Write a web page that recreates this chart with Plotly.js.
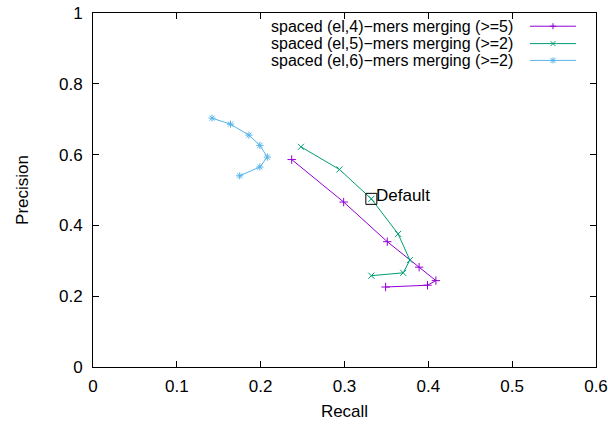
<!DOCTYPE html>
<html>
<head>
<meta charset="utf-8">
<script src="https://cdn.plot.ly/plotly-3.0.1.min.js"></script>
<style>html,body{margin:0;padding:0;background:#fff}#chart{width:608px;height:424px}</style>
</head>
<body>
<div id="chart"></div>
<script>
var seriesNames = [
  "spaced (el,4)\u2212mers merging (>=5)",
  "spaced (el,5)\u2212mers merging (>=2)",
  "spaced (el,6)\u2212mers merging (>=2)"
];
var recall4 = [0.237, 0.299, 0.351, 0.389, 0.409, 0.399, 0.349];
var precision4 = [0.586, 0.466, 0.354, 0.282, 0.244, 0.231, 0.226];
var recall5 = [0.248, 0.294, 0.332, 0.364, 0.378, 0.370, 0.332];
var precision5 = [0.622, 0.558, 0.475, 0.376, 0.302, 0.266, 0.258];
var recall6 = [0.142, 0.164, 0.186, 0.199, 0.208, 0.199, 0.175];
var precision6 = [0.703, 0.686, 0.655, 0.626, 0.593, 0.565, 0.540];
var defaultRecall = [0.332];
var defaultPrecision = [0.475];
var defaultLabel = ["Default"];
var xTicks = [0, 0.1, 0.2, 0.3, 0.4, 0.5, 0.6];
var yTicks = [0, 0.2, 0.4, 0.6, 0.8, 1];

var colors = ["#9400d3", "#009e73", "#56b4e9"];
var symbols = ["cross-thin-open", "x-thin-open", "asterisk-open"];
var FONT = "Liberation Sans, Arial, sans-serif";
var FS = 17;
var LFS = 16;

var xs = [recall4, recall5, recall6];
var ys = [precision4, precision5, precision6];
var traces = [];
for (var i = 0; i < 3; i++) {
  traces.push({
    x: xs[i], y: ys[i], type: "scatter", mode: "lines+markers",
    name: seriesNames[i], showlegend: false,
    line: {color: colors[i], width: 1},
    marker: {symbol: symbols[i], size: 6, color: colors[i], line: {color: colors[i], width: 1}}
  });
}
traces.push({
  x: defaultRecall, y: defaultPrecision, type: "scatter", mode: "markers",
  name: defaultLabel[0], showlegend: false,
  marker: {symbol: "square-open", size: 11, color: "#000", line: {color: "#000", width: 1}}
});

var annotations = [{
  xref: "x", yref: "y", x: defaultRecall[0], y: defaultPrecision[0],
  xanchor: "left", yanchor: "middle", xshift: 4, yshift: 3, showarrow: false, borderpad: 0,
  text: defaultLabel[0], font: {family: FONT, size: FS, color: "#000"}
}];

// hand-built legend (text right-aligned, sample line on the right)
var rowY = [0.9627, 0.9136, 0.8661];
var shapes = [];
var lx0 = 0.8688, lx1 = 0.9602, mx = 0.9145;
for (var k = 0; k < 3; k++) {
  annotations.push({
    xref: "paper", yref: "paper", x: 0.837, y: rowY[k],
    xanchor: "right", yanchor: "middle", showarrow: false, borderpad: 0,
    text: seriesNames[k], font: {family: FONT, size: LFS, color: "#000"}
  });
  shapes.push({type: "line", xref: "paper", yref: "paper", x0: lx0, x1: lx1, y0: rowY[k], y1: rowY[k],
    line: {color: colors[k], width: 1}});
  var segs = [];
  if (k === 0) segs = [[-3, 0, 3, 0], [0, -3, 0, 3]];
  if (k === 1) segs = [[-2.5, -2.5, 2.5, 2.5], [-2.5, 2.5, 2.5, -2.5]];
  if (k === 2) segs = [[-3, 0, 3, 0], [0, -3, 0, 3], [-2.5, -2.5, 2.5, 2.5], [-2.5, 2.5, 2.5, -2.5]];
  segs.forEach(function (s) {
    shapes.push({type: "line", xref: "paper", yref: "paper",
      xsizemode: "pixel", ysizemode: "pixel", xanchor: mx, yanchor: rowY[k],
      x0: s[0], y0: s[1], x1: s[2], y1: s[3], line: {color: colors[k], width: 1}});
  });
}

var axisCommon = {
  showgrid: false, zeroline: false, showline: true, linecolor: "#000", linewidth: 1,
  mirror: "ticks", ticks: "inside", ticklen: 6, tickwidth: 1, tickcolor: "#000",
  tickfont: {family: FONT, size: FS, color: "#000"}
};
var layout = {
  width: 608, height: 424,
  margin: {l: 93, r: 12, t: 13, b: 57, pad: 0},
  paper_bgcolor: "#fff", plot_bgcolor: "#fff",
  showlegend: false,
  font: {family: FONT, size: FS, color: "#000"},
  xaxis: Object.assign({}, axisCommon, {
    range: [0, 0.6], tickvals: xTicks, ticktext: xTicks.map(String),
    ticklabelstandoff: 4,
    title: {text: "Recall", font: {family: FONT, size: FS, color: "#000"}, standoff: 9}
  }),
  yaxis: Object.assign({}, axisCommon, {
    range: [0, 1], tickvals: yTicks, ticktext: yTicks.map(String),
    ticklabelstandoff: 6,
    title: {text: "Precision", font: {family: FONT, size: FS, color: "#000"}, standoff: 26}
  }),
  annotations: annotations,
  shapes: shapes
};
Plotly.newPlot("chart", traces, layout, {displayModeBar: false, staticPlot: true});
</script>
</body>
</html>
